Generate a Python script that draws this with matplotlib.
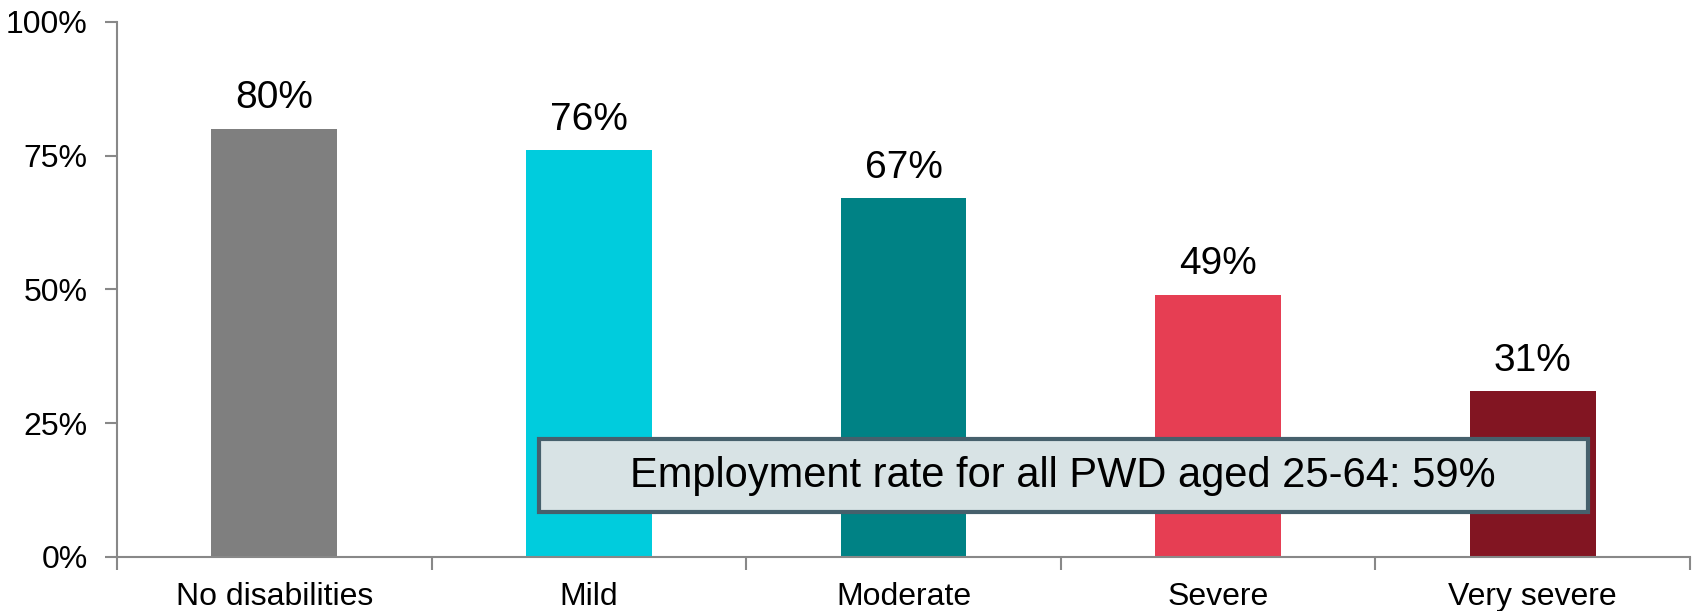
import matplotlib.pyplot as plt
from matplotlib.patches import Rectangle
import numpy as np

categories = ["No disabilities", "Mild", "Moderate", "Severe", "Very severe"]
rates = [80, 76, 67, 49, 31]
colors = ["#7F7F7F", "#00CCDD", "#008285", "#E63E53", "#821522"]
note = "Employment rate for all PWD aged 25-64: 59%"

plt.rcParams['font.family'] = ['Liberation Sans', 'DejaVu Sans']

fig = plt.figure(figsize=(16.96, 6.11), dpi=100)
ax = fig.add_axes([0.069, 0.0884, 0.9275, 0.876])

x = np.arange(len(categories))
ax.bar(x, rates, width=0.4, color=colors, zorder=2)
for xi, v in zip(x, rates):
    ax.annotate(f"{v}%", (xi, v), xytext=(0, 9), textcoords="offset points",
                ha="center", va="bottom", fontsize=28)

ax.set_xlim(-0.5, len(categories) - 0.5)
ax.set_ylim(0, 100)
ax.set_yticks([0, 25, 50, 75, 100])
ax.set_yticklabels(["0%", "25%", "50%", "75%", "100%"], fontsize=23)
ax.set_xticks(x)
ax.set_xticklabels(categories, fontsize=23)
ax.tick_params(axis="x", length=0, pad=18)
ax.set_xticks(np.arange(-0.5, len(categories)), minor=True)
ax.tick_params(axis="x", which="minor", length=9, width=1.5, color="#888888", direction="out")
ax.tick_params(axis="y", length=9, width=1.5, color="#888888", direction="out", pad=12)

for side in ["top", "right"]:
    ax.spines[side].set_visible(False)
for side in ["left", "bottom"]:
    ax.spines[side].set_color("#888888")
    ax.spines[side].set_linewidth(1.5)

box = Rectangle((0.268, 0.084), 0.667, 0.136, transform=ax.transAxes,
                facecolor="#D8E3E5", edgecolor="#46606C", linewidth=3, zorder=3)
ax.add_patch(box)
ax.text(0.6015, 0.152, note, transform=ax.transAxes, ha="center", va="center",
        fontsize=30, zorder=4)

fig.savefig("out.png", dpi=100)
